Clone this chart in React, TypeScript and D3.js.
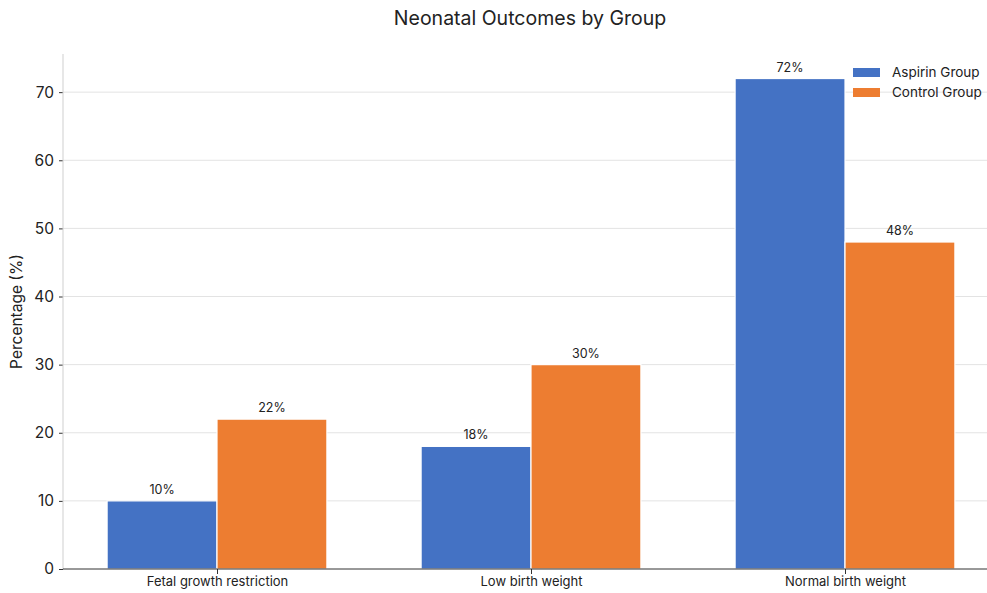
import { useEffect, useRef } from "react";
import * as d3 from "d3";

const categories = ["Fetal growth restriction", "Low birth weight", "Normal birth weight"];
const seriesNames = ["Aspirin Group", "Control Group"];
const aspirin = [10, 18, 72];
const control = [22, 30, 48];
const yTicks = [0, 10, 20, 30, 40, 50, 60, 70];
const colors = ["#4472C4", "#ED7D31"];

const FONT = "Inter, 'Open Sans', sans-serif";

const App = () => {
  const svgRef = useRef<SVGSVGElement>(null);

  useEffect(() => {
    const svg = d3.select(svgRef.current);
    svg.selectAll("*").remove();

    const width = 987;
    const height = 593;
    const left = 63;
    const bottom = 569;
    const top = 54;

    svg.attr("width", width).attr("height", height).style("font-family", FONT);

    const x = d3.scaleLinear().domain([0, 2]).range([217, 845]);
    const step = x(1) - x(0);
    const barW = step * 0.35;
    const y = d3.scaleLinear().domain([0, 75.6]).range([bottom, top]);

    // title
    svg
      .append("text")
      .attr("x", 530)
      .attr("y", 25)
      .attr("text-anchor", "middle")
      .style("font-size", "19.5px")
      .style("fill", "#222")
      .text("Neonatal Outcomes by Group");

    // grid
    svg
      .append("g")
      .selectAll("line")
      .data(yTicks.filter((d) => d > 0))
      .join("line")
      .attr("x1", left)
      .attr("x2", width)
      .attr("y1", (d) => y(d))
      .attr("y2", (d) => y(d))
      .attr("stroke", "#e3e3e3")
      .attr("stroke-width", 1);

    // bars
    const series = [aspirin, control];
    series.forEach((vals, s) => {
      const g = svg.append("g");
      g.selectAll("rect")
        .data(vals)
        .join("rect")
        .attr("x", (_, i) => x(i) + (s === 0 ? -barW : 0))
        .attr("y", (d) => y(d))
        .attr("width", barW)
        .attr("height", (d) => bottom - y(d))
        .attr("fill", colors[s])
        .attr("stroke", "#fff")
        .attr("stroke-width", 1.2);
      g.selectAll("text")
        .data(vals)
        .join("text")
        .attr("x", (_, i) => x(i) + (s === 0 ? -barW / 2 : barW / 2))
        .attr("y", (d) => y(d) - 7)
        .attr("text-anchor", "middle")
        .style("font-size", "12.5px")
        .style("fill", "#222")
        .text((d) => `${d}%`);
    });

    // y axis
    const yAxis = svg
      .append("g")
      .attr("transform", `translate(${left},0)`)
      .call(d3.axisLeft(y).tickValues(yTicks).tickSize(4).tickPadding(5));
    yAxis.select(".domain").remove();
    yAxis
      .append("line")
      .attr("x1", 0)
      .attr("x2", 0)
      .attr("y1", top)
      .attr("y2", bottom)
      .attr("stroke", "#cfcfcf");
    yAxis.selectAll(".tick line").attr("stroke", "#333");
    yAxis
      .selectAll(".tick text")
      .style("font-size", "15.5px")
      .style("font-family", FONT)
      .style("fill", "#222");

    // x axis
    const xAxis = svg
      .append("g")
      .attr("transform", `translate(0,${bottom})`)
      .call(
        d3
          .axisBottom(x)
          .tickValues([0, 1, 2])
          .tickFormat((d) => categories[d as number])
          .tickSize(5)
          .tickPadding(3)
      );
    xAxis.select(".domain").remove();
    xAxis
      .append("line")
      .attr("x1", left)
      .attr("x2", width)
      .attr("stroke", "#333");
    xAxis.selectAll(".tick line").attr("stroke", "#333");
    xAxis
      .selectAll(".tick text")
      .style("font-size", "13px")
      .style("font-family", FONT)
      .style("fill", "#222");

    // y label
    svg
      .append("text")
      .attr("transform", `translate(22,${(top + bottom) / 2}) rotate(-90)`)
      .attr("text-anchor", "middle")
      .style("font-size", "15.5px")
      .style("fill", "#222")
      .text("Percentage (%)");

    // legend
    const legend = svg.append("g").attr("transform", "translate(853,68)");
    seriesNames.forEach((name, i) => {
      legend
        .append("rect")
        .attr("x", 0)
        .attr("y", i * 20)
        .attr("width", 27)
        .attr("height", 9)
        .attr("fill", colors[i]);
      legend
        .append("text")
        .attr("x", 39)
        .attr("y", i * 20 + 9)
        .style("font-size", "13.5px")
        .style("fill", "#222")
        .text(name);
    });
  }, []);

  return <svg ref={svgRef} style={{ display: "block", position: "absolute", left: 0, top: 0 }} />;
};

export default App;
